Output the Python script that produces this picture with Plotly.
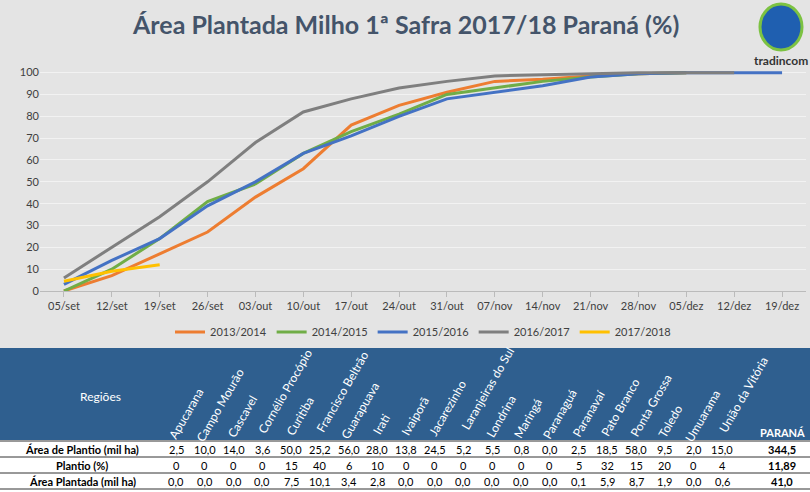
import math
import plotly.graph_objects as go

semanas = ["05/set", "12/set", "19/set", "26/set", "03/out", "10/out", "17/out", "24/out",
           "31/out", "07/nov", "14/nov", "21/nov", "28/nov", "05/dez", "12/dez", "19/dez"]
s2013 = [0, 7, 17, 27, 43, 56, 76, 85, 91, 96, 97, 98.5, 99.5, 100]
s2014 = [0, 10, 24, 41, 49, 63, 73, 81, 90, 93, 96, 98, 99.5, 100]
s2015 = [3, 14, 24, 39, 50, 63, 71, 80, 88, 91, 94, 98, 99.5, 100, 100, 100]
s2016 = [6, 20, 34, 50, 68, 82, 88, 93, 96, 98.5, 99, 99.5, 100, 100, 100]
s2017 = [4.5, 9, 12]

regioes = ["Apucarana", "Campo Mourão", "Cascavel", "Cornélio Procópio", "Curitiba",
           "Francisco Beltrão", "Guarapuava", "Irati", "Ivaiporã", "Jacarezinho",
           "Laranjeiras do Sul", "Londrina", "Maringá", "Paranaguá", "Paranavaí",
           "Pato Branco", "Ponta Grossa", "Toledo", "Umuarama", "União da Vitória"]
area_plantio = ["2,5", "10,0", "14,0", "3,6", "50,0", "25,2", "56,0", "28,0", "13,8", "24,5",
                "5,2", "5,5", "0,8", "0,0", "2,5", "18,5", "58,0", "9,5", "2,0", "15,0"]
plantio_pct = ["0", "0", "0", "0", "15", "40", "6", "10", "0", "0",
               "0", "0", "0", "0", "5", "32", "15", "20", "0", "4"]
area_plantada = ["0,0", "0,0", "0,0", "0,0", "7,5", "10,1", "3,4", "2,8", "0,0", "0,0",
                 "0,0", "0,0", "0,0", "0,0", "0,1", "5,9", "8,7", "1,9", "0,0", "0,6"]
linhas = ["Área de Plantio (mil ha)", "Plantio (%)", "Área Plantada (mil ha)"]
totais = ["344,5", "11,89", "41,0"]

W, H = 810, 492
ML, MR, MT, MB = 40, 4, 65, 201
PW, PH = W - ML - MR, H - MT - MB


def px(x):
    return (x - ML) / PW


def py(y):
    return (H - MB - y) / PH


fig = go.Figure()
series = [("2013/2014", s2013, "#ed7d31"), ("2014/2015", s2014, "#70ad47"),
          ("2015/2016", s2015, "#4472c4"), ("2016/2017", s2016, "#7f7f7f"),
          ("2017/2018", s2017, "#ffc000")]
for nome, vals, cor in series:
    fig.add_trace(go.Scatter(x=semanas[:len(vals)], y=vals, mode="lines", name=nome,
                             line=dict(color=cor, width=3)))

shapes = [
    dict(type="rect", xref="paper", yref="paper", x0=px(0), x1=px(W), y0=py(348), y1=py(440),
         fillcolor="#2f5f8f", line_width=0, layer="below"),
    dict(type="rect", xref="paper", yref="paper", x0=px(0), x1=px(W), y0=py(440), y1=py(H),
         fillcolor="white", line_width=0, layer="below"),
    dict(type="circle", xref="paper", yref="paper", x0=px(760), x1=px(802), y0=py(4), y1=py(50),
         fillcolor="#1f5fb0", line=dict(color="#7cc242", width=3)),
]
for yl in [441, 457, 473, 489]:
    shapes.append(dict(type="line", xref="paper", yref="paper", x0=px(0), x1=px(W),
                       y0=py(yl), y1=py(yl), line=dict(color="#333", width=1)))

ann = [
    dict(text="<b>Área Plantada Milho 1ª Safra 2017/18 Paraná (%)</b>", x=px(405), y=py(24),
         font=dict(size=25, color="#44546a")),
    dict(text="<b>tradincom</b>", x=px(781), y=py(60), font=dict(size=12, color="#333")),
    dict(text="Regiões", x=px(100), y=py(396), font=dict(size=12, color="white")),
    dict(text="<b>PARANÁ</b>", x=px(782), y=py(433), font=dict(size=11, color="white")),
]
colx = [176 + i * 28.75 for i in range(len(regioes))]
for i, r in enumerate(regioes):
    L = len(r) * 6.3
    cx = colx[i] - 4 + L / 2 * math.cos(math.radians(60))
    cy = 438 - L / 2 * math.sin(math.radians(60))
    ann.append(dict(text=r, x=px(cx), y=py(cy), textangle=-60,
                    font=dict(size=12, color="white")))
for j, (rot, vals, tot) in enumerate(zip(linhas, [area_plantio, plantio_pct, area_plantada], totais)):
    yy = 449 + j * 16
    ann.append(dict(text=f"<b>{rot}</b>", x=px(82), y=py(yy), font=dict(size=11, color="black")))
    for i, v in enumerate(vals):
        ann.append(dict(text=v, x=px(colx[i]), y=py(yy), font=dict(size=11, color="black")))
    ann.append(dict(text=f"<b>{tot}</b>", x=px(782), y=py(yy), font=dict(size=11, color="black")))
for a in ann:
    a.update(xref="paper", yref="paper", showarrow=False, xanchor="center", yanchor="middle")

fig.update_layout(
    width=W, height=H, margin=dict(l=ML, r=MR, t=MT, b=MB),
    paper_bgcolor="#e4e4e4", plot_bgcolor="rgba(0,0,0,0)",
    font=dict(family="Lato, Open Sans, sans-serif", size=11, color="#404040"),
    xaxis=dict(range=[-0.5, 15.5], showgrid=False, ticks="outside", tickcolor="#bbb",
               showline=True, linecolor="#bbb", tickfont=dict(size=11, color="#404040")),
    yaxis=dict(range=[0, 103.5], dtick=10, gridcolor="#f2f2f2", zeroline=False,
               tickfont=dict(size=11, color="#404040")),
    legend=dict(orientation="h", x=0.5, xanchor="center", y=py(332), yanchor="middle",
                font=dict(size=11, color="#404040"), bgcolor="rgba(0,0,0,0)"),
    shapes=shapes, annotations=ann,
)
fig.write_html("out.html", config={"displayModeBar": False},
               post_script="document.body.style.margin='0';")
